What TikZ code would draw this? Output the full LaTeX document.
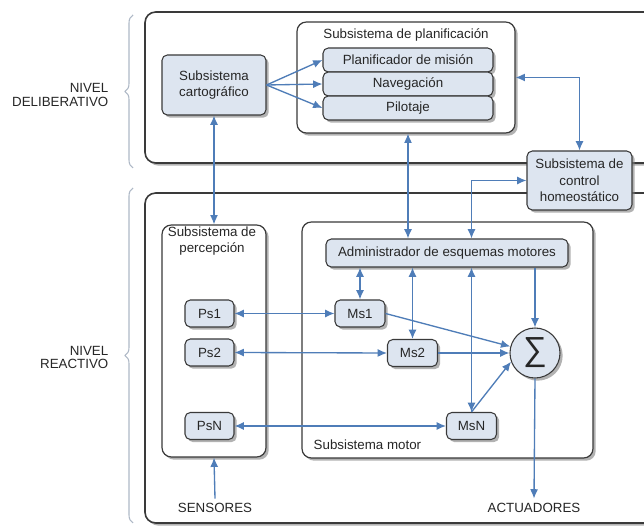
\documentclass[tikz,border=0pt]{standalone}
\usepackage{fontspec}
\setmainfont{Liberation Sans}
\usetikzlibrary{arrows.meta,shadows,decorations.pathreplacing}
\definecolor{linkblue}{HTML}{4F7DB8}
\definecolor{boxfill}{HTML}{DDE5F0}
\definecolor{edge}{HTML}{3A3A3A}
\definecolor{bracegray}{HTML}{AEB8C6}
\tikzset{
  softshadow/.style={drop shadow={shadow xshift=2pt,shadow yshift=-2pt,opacity=0.6,fill=black!50}},
  every node/.style={font=\fontsize{10}{12.5}\selectfont,text=black!85},
  level/.style={draw=edge,line width=1.2pt,rounded corners=8pt,fill=white,softshadow,inner sep=0pt},
  group/.style={draw=edge,line width=0.9pt,rounded corners=7pt,fill=white,softshadow,inner sep=0pt},
  unit/.style={draw=edge,line width=0.8pt,rounded corners=4pt,fill=boxfill,softshadow,align=center,inner sep=1pt},
  lvlabel/.style={anchor=east,align=right,font=\fontsize{10}{10.2}\selectfont},
  link/.style={draw=linkblue,line width=1pt,-{Latex[length=7pt,width=6pt]}},
  dlink/.style={link,{Latex[length=7pt,width=6pt]}-{Latex[length=7pt,width=6pt]}},
  lvbrace/.style={draw=bracegray,line width=0.8pt,decorate,decoration={brace,amplitude=6pt}}
}
\begin{document}
\begin{tikzpicture}[x=0.75pt,y=-0.75pt]
\useasboundingbox (0,0) rectangle (644,527);

% the two levels
\node[level,minimum width=401.25pt,minimum height=113.25pt] (delib) at (412.5,87.5) {};
\node[level,minimum width=401.25pt,minimum height=247.5pt] (react) at (412.5,358) {};

% level braces and labels
\draw[lvbrace] (133,168) -- (133,15);
\draw[lvbrace] (133,523) -- (133,188);
\node[lvlabel] (lvdel) at (113,95) {NIVEL\\DELIBERATIVO};
\node[lvlabel] (lvrea) at (113,357.5) {NIVEL\\REACTIVO};

% subsystem frames
\node[group,minimum width=163.5pt,minimum height=83.25pt] (plan) at (406,77.5) {};
\node[group,minimum width=78pt,minimum height=174pt] (perc) at (214,341) {};
\node[group,minimum width=218.25pt,minimum height=177pt] (motor) at (447.5,340) {};
\node (plantitle) at (406,35) {Subsistema de planificación};
\node[align=center] (perctitle) at (212,241) {Subsistema de\\percepción};
\node[anchor=west] (mottitle) at (309,445) {Subsistema motor};

% deliberative units
\node[unit,minimum width=78pt,minimum height=45pt] (cart) at (214,85) {Subsistema\\cartográfico};
\node[unit,minimum width=127.5pt,minimum height=18pt] (planif) at (408,60) {Planificador de misión};
\node[unit,minimum width=127.5pt,minimum height=18pt] (nav) at (408,84) {Navegación};
\node[unit,minimum width=127.5pt,minimum height=18pt] (pilot) at (408,108) {Pilotaje};
\node[unit,minimum width=78.75pt,minimum height=44.25pt] (homeo) at (579.5,180.5) {Subsistema de\\control\\homeostático};

% perception units
\node[unit,minimum width=36.75pt,minimum height=20.25pt] (ps1) at (209.5,313.5) {Ps1};
\node[unit,minimum width=36.75pt,minimum height=20.25pt] (ps2) at (209.5,352.5) {Ps2};
\node[unit,minimum width=36.75pt,minimum height=20.25pt] (psn) at (209.5,426) {PsN};

% motor units
\node[unit,minimum width=181.5pt,minimum height=21pt] (admin) at (447,253) {Administrador de esquemas motores};
\node[unit,minimum width=37.5pt,minimum height=20.25pt] (ms1) at (360,313.5) {Ms1};
\node[unit,minimum width=37.5pt,minimum height=20.25pt] (ms2) at (412.5,353) {Ms2};
\node[unit,minimum width=37.5pt,minimum height=20.25pt] (msn) at (471.5,426) {MsN};
\node[circle,draw=edge,line width=0.8pt,fill=boxfill,softshadow,minimum size=37.5pt,inner sep=0pt,
      font=\fontsize{25}{25}\selectfont] (sum) at (535,353) {∑};

% inputs and outputs
\node (sens) at (215,508) {SENSORES};
\node (act) at (534,508) {ACTUADORES};

% connections
\draw[link] (cart.east) -- (planif.west);
\draw[link] (cart.east) -- (nav.west);
\draw[link] (cart.east) -- (pilot.west);
\draw[dlink] (plan.east) -| (homeo.north);
\draw[dlink] (plan.south -| pilot.south) -- (admin.north -| pilot.south);
\draw[dlink] (homeo.west) -| (admin.north -| msn.north);
\draw[dlink] (cart.south) -- (perc.north);
\draw[dlink] (ps1.east) -- (ms1.west);
\draw[dlink] (ps2.east) -- (ms2.west);
\draw[dlink] (psn.east) -- (msn.west);
\draw[dlink] (admin.south -| ms1.north) -- (ms1.north);
\draw[dlink] (admin.south -| ms2.north) -- (ms2.north);
\draw[dlink] (admin.south -| msn.north) -- (msn.north);
\draw[link] (admin.south -| sum.north) -- (sum.north);
\draw[link] (ms1.east) -- (sum);
\draw[link] (ms2.east) -- (sum.west);
\draw[link] (msn.north) -- (sum.200);
\draw[link] (sum.south) -- (act.north);
\draw[link] (sens.north) -- (perc.south);
\end{tikzpicture}
\end{document}
